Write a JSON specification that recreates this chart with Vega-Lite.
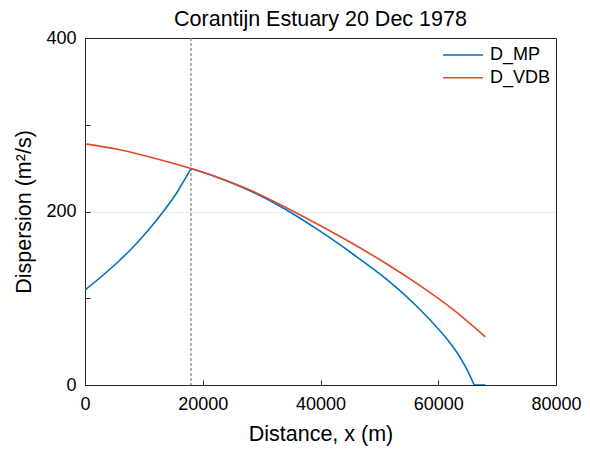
{
  "$schema": "https://vega.github.io/schema/vega-lite/v6.json",
  "width": 471,
  "height": 347,
  "autosize": "none",
  "padding": {"left": 85, "top": 38, "right": 34, "bottom": 66},
  "background": "white",
  "title": {
    "text": "Corantijn Estuary 20 Dec 1978",
    "font": "Liberation Sans",
    "fontSize": 21.5,
    "fontWeight": "normal",
    "color": "#000000",
    "anchor": "middle",
    "offset": -1
  },
  "config": {
    "view": {"stroke": "#262626", "strokeWidth": 1},
    "axis": {
      "labelFont": "Liberation Sans",
      "titleFont": "Liberation Sans",
      "labelFontSize": 18,
      "titleFontSize": 21.5,
      "titleFontWeight": "normal",
      "labelColor": "#000000",
      "titleColor": "#000000",
      "domainColor": "#262626",
      "tickColor": "#262626",
      "grid": false
    },
    "legend": {
      "labelFont": "Liberation Sans",
      "labelFontSize": 18,
      "labelColor": "#000000"
    }
  },
  "datasets": {
    "curves": [
      {"x": 0, "D": 109.5, "series": "D_MP", "seg": "MP1"},
      {"x": 2700, "D": 124.5, "series": "D_MP", "seg": "MP1"},
      {"x": 5500, "D": 141.2, "series": "D_MP", "seg": "MP1"},
      {"x": 8300, "D": 160, "series": "D_MP", "seg": "MP1"},
      {"x": 11200, "D": 182.2, "series": "D_MP", "seg": "MP1"},
      {"x": 13400, "D": 200.8, "series": "D_MP", "seg": "MP1"},
      {"x": 15700, "D": 222.8, "series": "D_MP", "seg": "MP1"},
      {"x": 16900, "D": 236.5, "series": "D_MP", "seg": "MP1"},
      {"x": 18000, "D": 249.5, "series": "D_MP", "seg": "MP1"},
      {"x": 18000, "D": 249.5, "series": "D_MP", "seg": "MP2"},
      {"x": 22500, "D": 239.3, "series": "D_MP", "seg": "MP2"},
      {"x": 28000, "D": 224, "series": "D_MP", "seg": "MP2"},
      {"x": 33800, "D": 203.5, "series": "D_MP", "seg": "MP2"},
      {"x": 40000, "D": 177, "series": "D_MP", "seg": "MP2"},
      {"x": 45500, "D": 151, "series": "D_MP", "seg": "MP2"},
      {"x": 51200, "D": 122, "series": "D_MP", "seg": "MP2"},
      {"x": 56900, "D": 87, "series": "D_MP", "seg": "MP2"},
      {"x": 62500, "D": 44.2, "series": "D_MP", "seg": "MP2"},
      {"x": 64500, "D": 22.5, "series": "D_MP", "seg": "MP2"},
      {"x": 66100, "D": 0, "series": "D_MP", "seg": "MP2"},
      {"x": 66100, "D": 0, "series": "D_MP", "seg": "MP3"},
      {"x": 68000, "D": 0, "series": "D_MP", "seg": "MP3"},
      {"x": 0, "D": 278, "series": "D_VDB", "seg": "VDB"},
      {"x": 5500, "D": 271.8, "series": "D_VDB", "seg": "VDB"},
      {"x": 11000, "D": 262.8, "series": "D_VDB", "seg": "VDB"},
      {"x": 18000, "D": 249.5, "series": "D_VDB", "seg": "VDB"},
      {"x": 22500, "D": 239.5, "series": "D_VDB", "seg": "VDB"},
      {"x": 28000, "D": 224.8, "series": "D_VDB", "seg": "VDB"},
      {"x": 33800, "D": 205.8, "series": "D_VDB", "seg": "VDB"},
      {"x": 40000, "D": 183.5, "series": "D_VDB", "seg": "VDB"},
      {"x": 45500, "D": 162.8, "series": "D_VDB", "seg": "VDB"},
      {"x": 51200, "D": 139.8, "series": "D_VDB", "seg": "VDB"},
      {"x": 56900, "D": 114.6, "series": "D_VDB", "seg": "VDB"},
      {"x": 62500, "D": 87.2, "series": "D_VDB", "seg": "VDB"},
      {"x": 68000, "D": 55.5, "series": "D_VDB", "seg": "VDB"}
    ],
    "marker": [{"x": 18000}]
  },
  "layer": [
    {
      "data": {"name": "marker"},
      "mark": {"type": "rule", "color": "#888888", "strokeWidth": 1.3, "strokeDash": [3, 2]},
      "encoding": {
        "x": {"field": "x", "type": "quantitative", "scale": {"domain": [0, 80000]}}
      }
    },
    {
      "data": {"name": "curves"},
      "mark": {"type": "line", "strokeWidth": 1.6, "interpolate": "catmull-rom", "clip": true},
      "encoding": {
        "x": {
          "field": "x",
          "type": "quantitative",
          "scale": {"domain": [0, 80000], "nice": false, "zero": false},
          "axis": {
            "title": "Distance, x (m)",
            "values": [0, 20000, 40000, 60000, 80000],
            "format": "d",
            "tickSize": -5,
            "labelPadding": 15,
            "titlePadding": 10,
            "labelFlush": false
          }
        },
        "y": {
          "field": "D",
          "type": "quantitative",
          "scale": {"domain": [0, 400], "nice": false},
          "axis": {
            "title": "Dispersion (m²/s)",
            "values": [0, 100, 200, 300, 400],
            "labelExpr": "datum.value % 200 === 0 ? datum.label : ''",
            "tickSize": -5,
            "labelPadding": 14,
            "titlePadding": 10,
            "labelFlush": false,
            "grid": true,
            "gridColor": "#d9d9d9",
            "gridDash": [2, 2],
            "gridOpacity": {"condition": {"test": "datum.value === 200", "value": 1}, "value": 0}
          }
        },
        "color": {
          "field": "series",
          "type": "nominal",
          "scale": {"domain": ["D_MP", "D_VDB"], "range": ["#0072BD", "#E4472A"]},
          "legend": {
            "title": null,
            "orient": "none",
            "legendX": 367,
            "legendY": 6,
            "padding": 0,
            "symbolType": "M-2,0H2",
            "symbolSize": 400,
            "symbolStrokeWidth": 1.6,
            "labelOffset": 16,
            "rowPadding": 2.7
          }
        },
        "detail": {"field": "seg", "type": "nominal"}
      }
    }
  ]
}
